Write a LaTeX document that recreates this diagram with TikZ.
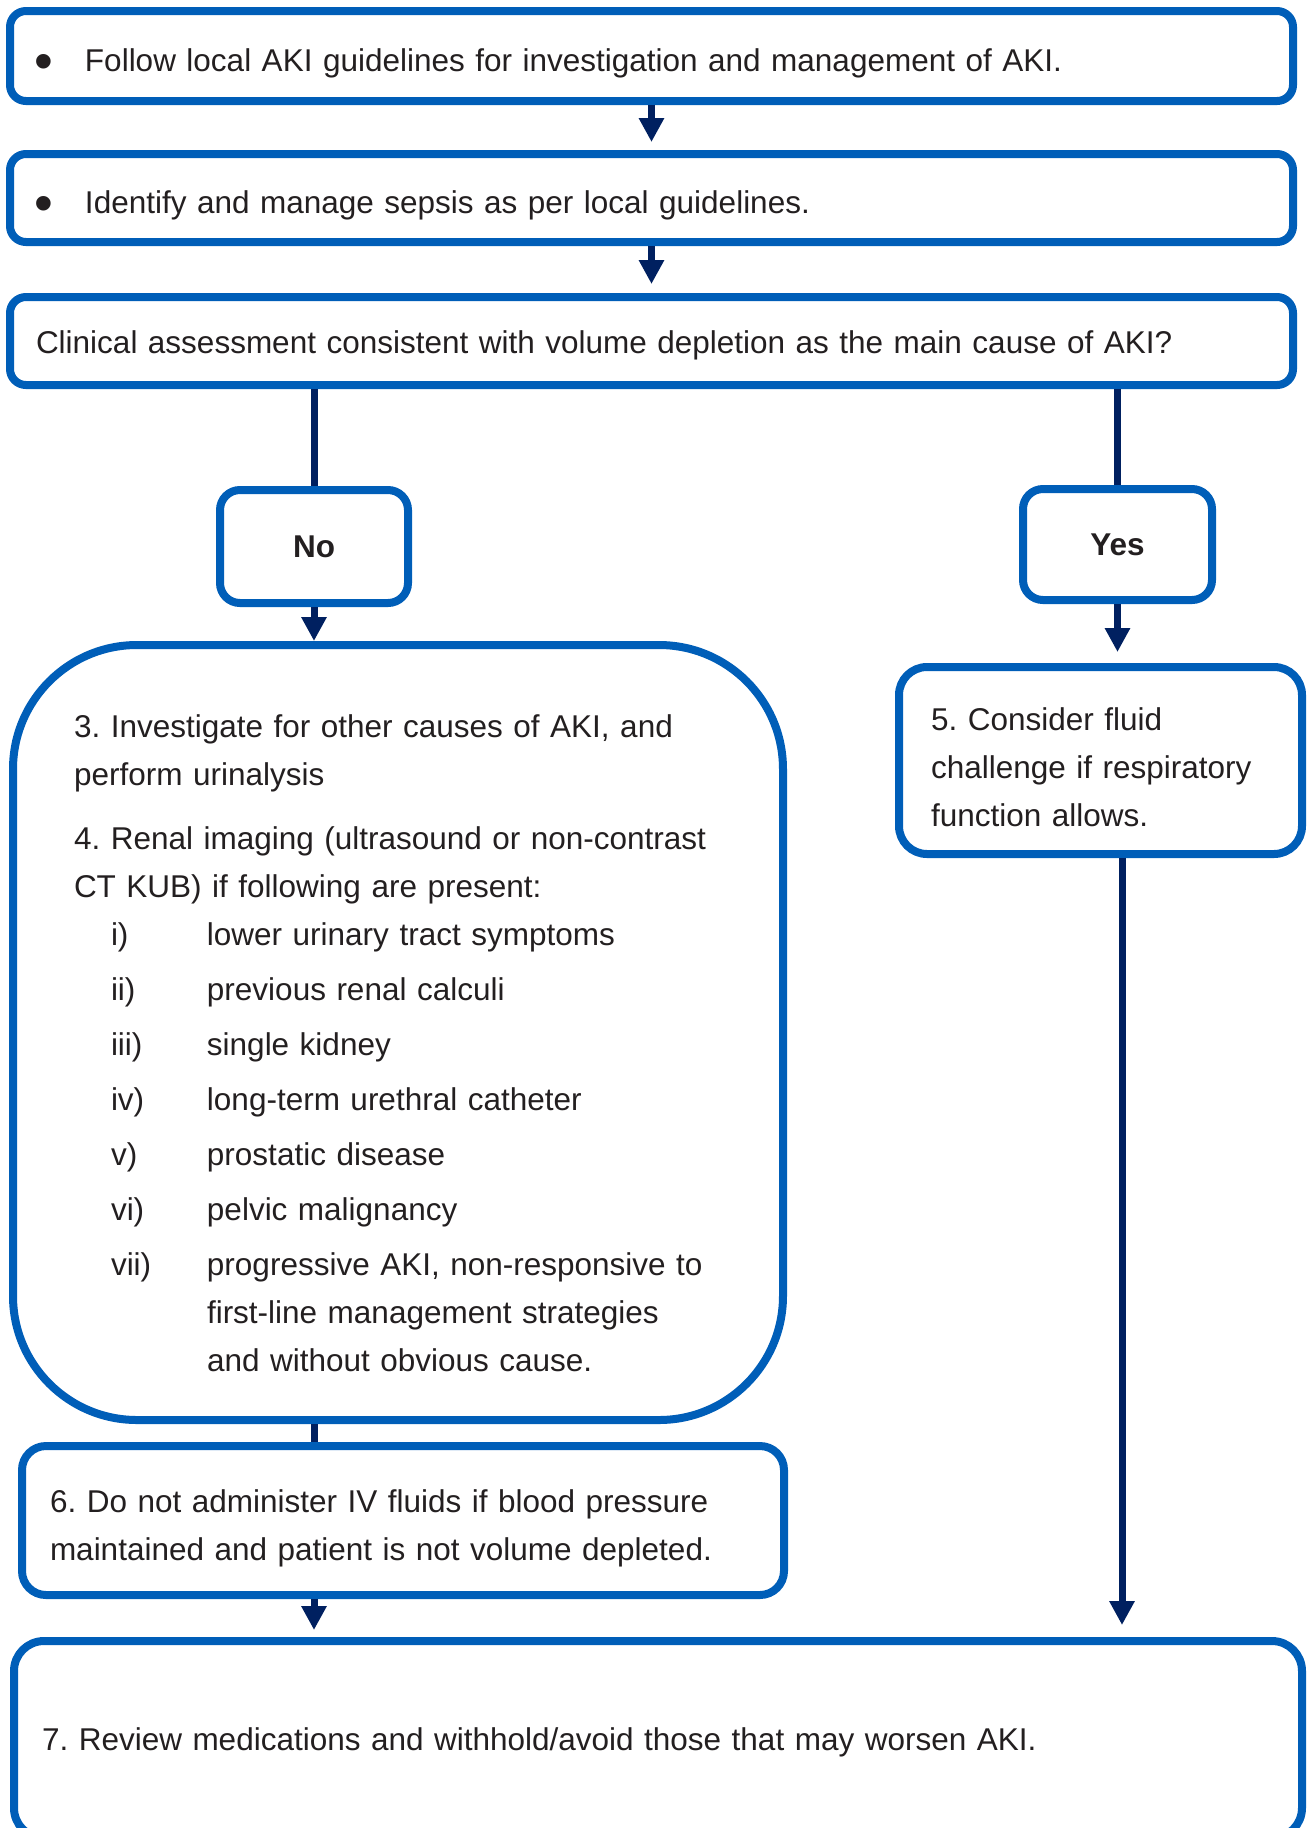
\documentclass[tikz,border=0pt]{standalone}
\usepackage{fontspec}
\setmainfont{Liberation Sans}
\usetikzlibrary{arrows.meta,calc}
\definecolor{nhsblue}{RGB}{0,94,184}
\definecolor{nhsnavy}{RGB}{0,32,96}
\definecolor{inkgrey}{RGB}{35,31,32}
\frenchspacing
\newcommand{\bigbullet}{\makebox[23.5pt][l]{\hspace*{-1.7pt}\raisebox{-4.4pt}{\scalebox{1.7}{\textbullet}}}}
\tikzset{
  stage/.style={draw=nhsblue, line width=4pt, rounded corners=8pt, fill=white, text=inkgrey,
    font=\fontsize{15.75}{24}\selectfont, align=left, inner ysep=0pt},
  answer/.style={stage, rounded corners=10pt, font=\bfseries\fontsize{15.75}{24}\selectfont, align=center},
  flow/.style={nhsnavy, line width=3.5pt, -{Triangle[width=12pt,length=12pt]}},
  link/.style={nhsnavy, line width=3.5pt},
}

\begin{document}
\begin{tikzpicture}[x=0.5pt, y=-0.5pt]
			%%%%% START %%%%%
			\useasboundingbox (0, 0) rectangle (1309, 1828);
			\clip (0, 0) rectangle (1309, 1828);
			
			\node[stage, minimum width=641.5pt, minimum height=45pt, inner xsep=14pt, text width=613.5pt,
			  text height=15pt, text depth=0pt] (follow) at (651.5, 56)
			  {\bigbullet Follow local AKI guidelines for investigation and management of AKI.};
			\node[stage, minimum width=641.5pt, minimum height=44pt, inner xsep=14pt, text width=613.5pt,
			  text height=15pt, text depth=0pt] (sepsis) at (651.5, 198)
			  {\bigbullet Identify and manage sepsis as per local guidelines.};
			\node[stage, minimum width=641.5pt, minimum height=44pt, inner xsep=13pt, text width=615.5pt,
			  text height=12pt, text depth=0pt] (assess) at (651.5, 341)
			  {Clinical assessment consistent with volume depletion as the main cause of AKI?};
			
			\node[answer, minimum width=94pt, minimum height=56.5pt] (no) at (314, 546.5) {No};
			\node[answer, minimum width=94.5pt, minimum height=55.5pt] (yes) at (1117.5, 544.5) {Yes};
			
			\node[stage, rounded corners=62pt, minimum width=385pt, minimum height=387.5pt,
			  inner xsep=30.5pt, text width=324pt] (invest) at (398, 1032.5)
			  {\rule{0pt}{21.7pt}3. Investigate for other causes of AKI, and\\
			   perform urinalysis\\[8pt]
			   \mbox{4. Renal imaging (ultrasound or non-contrast}\\
			   CT KUB) if following are present:\\
			   \hspace*{18.5pt}\makebox[48pt][l]{i)}lower urinary tract symptoms\\[3.5pt]
			   \hspace*{18.5pt}\makebox[48pt][l]{ii)}previous renal calculi\\[3.5pt]
			   \hspace*{18.5pt}\makebox[48pt][l]{iii)}single kidney\\[3.5pt]
			   \hspace*{18.5pt}\makebox[48pt][l]{iv)}long-term urethral catheter\\[3.5pt]
			   \hspace*{18.5pt}\makebox[48pt][l]{v)}prostatic disease\\[3.5pt]
			   \hspace*{18.5pt}\makebox[48pt][l]{vi)}pelvic malignancy\\[3.5pt]
			   \hspace*{18.5pt}\makebox[48pt][l]{vii)}progressive AKI, non-responsive to\\
			   \hspace*{66.5pt}first-line management strategies\\
			   \hspace*{66.5pt}and without obvious cause.};
			
			\node[stage, rounded corners=14pt, minimum width=201.5pt, minimum height=93.5pt,
			  inner xsep=16pt, text width=169.5pt] (fluid) at (1100.5, 760.5)
			  {\rule{0pt}{18pt}5. Consider fluid\\ challenge if respiratory\\ function allows.};
			
			\node[stage, rounded corners=12pt, minimum width=381pt, minimum height=74.5pt,
			  inner xsep=14pt, text width=353pt] (noiv) at (403, 1520.5)
			  {\rule{0pt}{19pt}6. Do not administer IV fluids if blood pressure\\
			   maintained and patient is not volume depleted.};
			
			\node[stage, rounded corners=15pt, minimum width=644pt, minimum height=98.5pt,
			  inner xsep=14pt, text width=616pt, text height=11pt, text depth=0pt] (review) at (658, 1739.5)
			  {7. Review medications and withhold/avoid those that may worsen AKI.};
			
			% connectors
			\draw[flow, shorten >=4pt] (follow.south) -- (sepsis.north);
			\draw[flow, shorten >=4.5pt] (sepsis.south) -- (assess.north);
			\draw[link] (assess.south -| no.north) -- (no.north);
			\draw[link] (assess.south -| yes.north) -- (yes.north);
			\draw[flow] (no.south) -- (no.south |- invest.north);
			\draw[flow, shorten >=5.5pt] (yes.south) -- (yes.south |- fluid.north);
			\draw[link] (invest.south -| no.south) -- (no.south |- noiv.north);
			\draw[flow, shorten >=3.5pt] (noiv.south -| no.south) -- (no.south |- review.north);
			\draw[flow, shorten >=6pt] ($(fluid.south)+(21.5, 0)$) -- ($(fluid.south |- review.north)+(21.5, 0)$);
			
			%%%%% END %%%%%
\end{tikzpicture}
\end{document}
